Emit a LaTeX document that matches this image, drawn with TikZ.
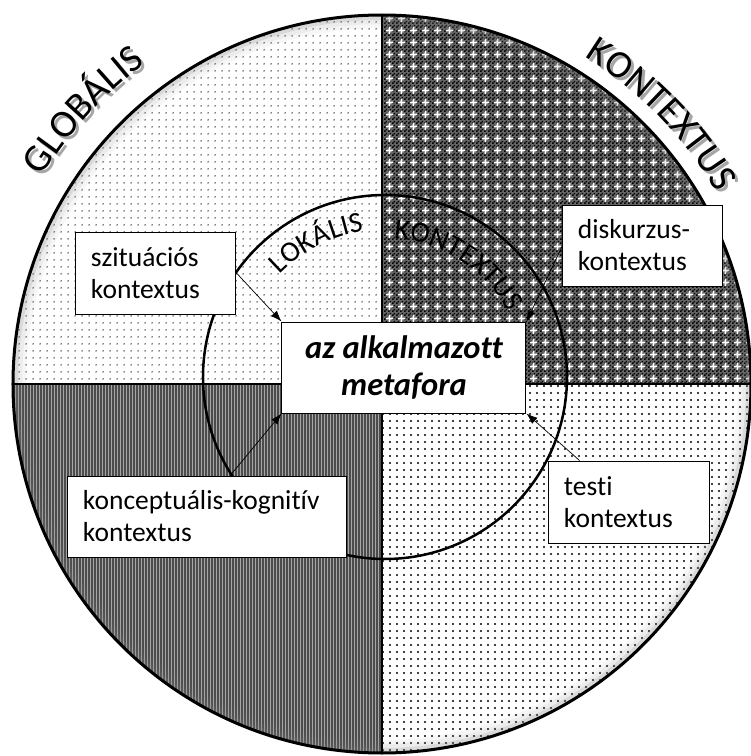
\documentclass[tikz,border=0pt]{standalone}
\usepackage{fontspec}
\setmainfont{Carlito}[Ligatures=NoCommon]
\usetikzlibrary{arrows.meta,patterns,patterns.meta,decorations.text}

\newcommand{\bigctx}{\fontsize{39}{39}\selectfont}
\newcommand{\smallctx}{\fontsize{29}{29}\selectfont}

\pgfdeclarepatternformonly{finechecker}{\pgfpointorigin}{\pgfqpoint{4pt}{4pt}}{\pgfqpoint{4pt}{4pt}}{
	\pgfpathrectangle{\pgfpointorigin}{\pgfqpoint{2pt}{2pt}}
	\pgfpathrectangle{\pgfqpoint{2pt}{2pt}}{\pgfqpoint{2pt}{2pt}}
	\pgfusepath{fill}
}
\pgfdeclarepatternformonly{plusgrid}{\pgfpointorigin}{\pgfqpoint{12pt}{12pt}}{\pgfqpoint{12pt}{12pt}}{
	\pgfpathrectangle{\pgfqpoint{2pt}{5pt}}{\pgfqpoint{8pt}{2pt}}
	\pgfpathrectangle{\pgfqpoint{5pt}{2pt}}{\pgfqpoint{2pt}{8pt}}
	\pgfusepath{fill}
}

\tikzset{
	ctxbox/.style={draw, fill=white, line width=1pt, align=left, inner xsep=15pt, inner ysep=0pt, font=\fontsize{27.5}{32}\selectfont},
	ctxarrow/.style={-{Latex[length=11pt,width=8pt]}, line width=0.7pt},
	curvetext/.style={decorate, decoration={text along path, text align=center, text={#1}}},
}

\begin{document}
\begin{tikzpicture}[x=1pt,y=1pt]
	\useasboundingbox (-382,-372) rectangle (369,384);

	\fill[pattern={Dots[distance=6.5pt, radius=0.8pt]}] (0,0) -- (90:369) arc (90:180:369) -- cycle;
	\fill[black!60] (0,0) -- (0:369) arc (0:90:369) -- cycle;
	\fill[pattern=finechecker, pattern color=black] (0,0) -- (0:369) arc (0:90:369) -- cycle;
	\fill[pattern=plusgrid, pattern color=white] (0,0) -- (0:369) arc (0:90:369) -- cycle;
	\fill[black!70] (0,0) -- (180:369) arc (180:270:369) -- cycle;
	\fill[pattern={Lines[angle=90, distance=3pt, line width=1pt]}, pattern color=black!35] (0,0) -- (180:369) arc (180:270:369) -- cycle;
	\fill[pattern={Dots[distance=6.5pt, radius=1.2pt]}] (0,0) -- (270:369) arc (270:360:369) -- cycle;

	\foreach \r/\o in {366/0.3,362/0.15,358/0.07}
		\draw[black!50, line width=4pt, opacity=\o] (0,0) circle (\r);
	\draw[line width=3pt] (0,0) circle (369);
	\draw[line width=2.5pt] (-369,0) -- (369,0);
	\draw[line width=2pt] (0,-369) -- (0,369);

	\draw[line width=2.5pt] (3,7) circle (182);

	\path[curvetext={|\bigctx|GLOBÁLIS}, decoration={text color=black!35}, shift={(3,-3)}] (162:398) arc (162:113:398);
	\path[curvetext={|\bigctx|KONTEXTUS}, decoration={text color=black!35}, shift={(3,-3)}] (71:385) arc (71:17:385);
	\path[curvetext={|\bigctx|GLOBÁLIS}] (162:398) arc (162:113:398);
	\path[curvetext={|\bigctx|KONTEXTUS}] (71:385) arc (71:17:385);

	\path[curvetext={|\smallctx|LOKÁLIS}] ([shift={(3,7)}]147:147) arc (147:87:147);
	\path[curvetext={|\smallctx|KONTEXTUS}] ([shift={(3,7)}]88:139) arc (88:26:139);

	\node[ctxbox, text width=130pt, minimum height=82pt] (szit) at (-226,111) {szituációs\\kontextus};
	\node[ctxbox, text width=129pt, minimum height=81pt] (disk) at (260.5,138.5) {diskurzus-\\kontextus};
	\node[ctxbox, text width=130pt, minimum height=82pt] (testi) at (247,-118) {testi\\kontextus};
	\node[ctxbox, text width=249pt, minimum height=81pt] (konc) at (-174.5,-132.5) {konceptuális-kognitív\\kontextus};
	\node[draw, fill=white, line width=1pt, align=center, minimum width=244pt, minimum height=91pt, font=\fontsize{32.5}{37}\selectfont\bfseries\itshape] (met) at (22,16.5) {az alkalmazott\\metafora};

	\draw[ctxarrow] (szit.east) -- (met.north west);
	\draw[ctxarrow] (disk.west) -- (met.north east);
	\draw[ctxarrow] (testi.140) -- (met.south east);
	\draw[ctxarrow] (konc.61) -- (met.south west);
\end{tikzpicture}
\end{document}
